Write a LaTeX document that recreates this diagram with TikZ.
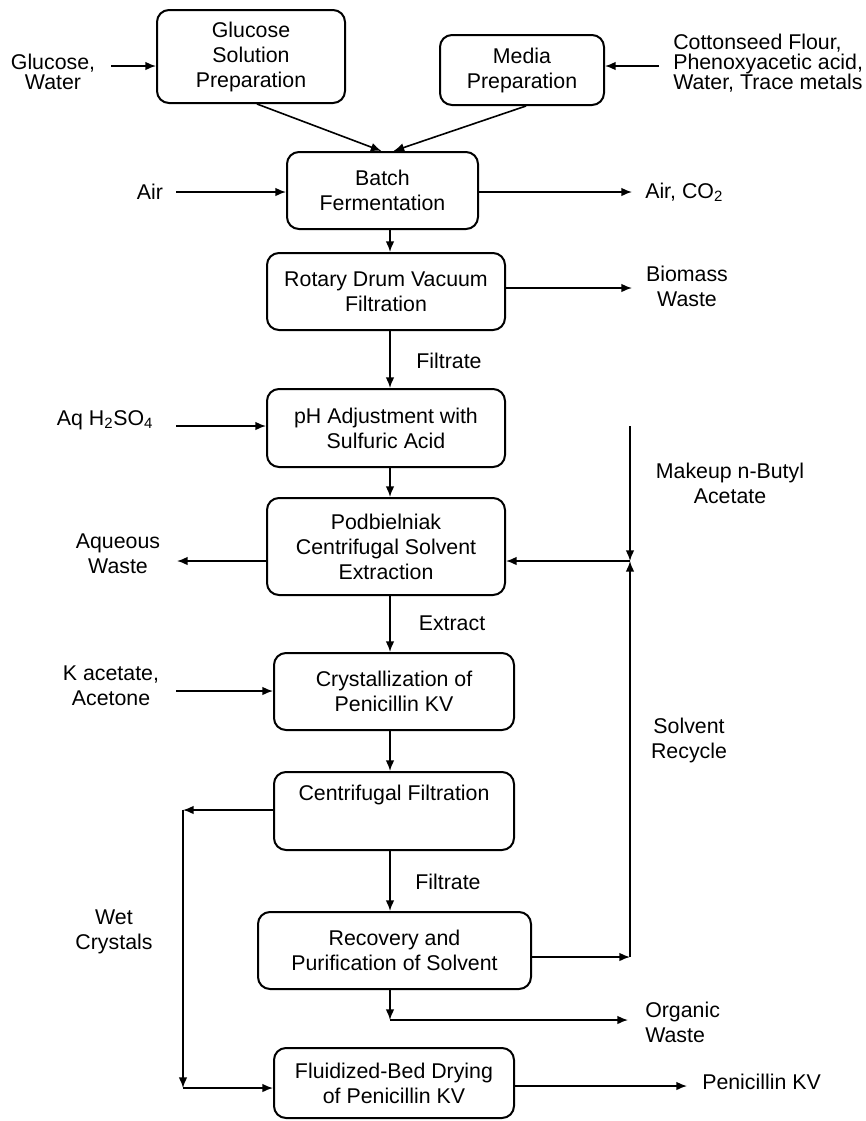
\documentclass[tikz,border=0pt]{standalone}
\usepackage{fontspec}
\setmainfont{Liberation Sans}
\usetikzlibrary{arrows.meta,calc}
\begin{document}
\begin{tikzpicture}[x=0.75pt,y=-0.75pt,
 box/.style={draw,line width=1.5pt,rounded corners=9pt,align=center,inner sep=0pt,font=\fontsize{16}{18.75}\selectfont},
 lbl/.style={align=center,inner sep=0pt,font=\fontsize{16}{18.75}\selectfont},
 lbltight/.style={align=center,inner sep=0pt,font=\fontsize{16}{15}\selectfont},
 arr/.style={line width=1.2pt,-{Latex[length=8pt,width=6.5pt]}}]
\useasboundingbox (0,0) rectangle (866,1121);
% process boxes
\node[box,minimum width=141pt,minimum height=69.75pt] (glu) at (251,56.5) {Glucose\\Solution\\Preparation};
\node[box,minimum width=123pt,minimum height=52.5pt] (media) at (522,70) {Media\\Preparation};
\node[box,minimum width=143.25pt,minimum height=57.75pt] (batch) at (382.5,190.5) {Batch\\Fermentation};
\node[box,minimum width=178.5pt,minimum height=57.75pt] (rotary) at (386,291.5) {Rotary Drum Vacuum\\Filtration};
\node[box,minimum width=178.5pt,minimum height=58.5pt] (ph) at (386,428) {pH Adjustment with\\Sulfuric Acid};
\node[box,minimum width=178.5pt,minimum height=72.75pt] (podb) at (386,546.5) {Podbielniak\\Centrifugal Solvent\\Extraction};
\node[box,minimum width=180pt,minimum height=57.75pt] (cryst) at (394,691.5) {Crystallization of\\Penicillin KV};
\node[box,minimum width=180pt,minimum height=58.5pt] (cf) at (394,811) {};
\node[box,minimum width=204.75pt,minimum height=57.75pt] (rec) at (394.5,950.5) {Recovery and\\Purification of Solvent};
\node[box,minimum width=180pt,minimum height=52.5pt] (fluid) at (394,1083) {Fluidized-Bed Drying\\of Penicillin KV};
% labels
\node[lbl] (cfT) at (394,795) {Centrifugal Filtration};
\node[lbltight] (gwL) at (53,72) {Glucose,\\Water};
\node[lbltight,anchor=west,align=left] (csL) at (673,63) {Cottonseed Flour,\\Phenoxyacetic acid,\\Water, Trace metals};
\node[lbl] (airL) at (150,192) {Air};
\node[lbl,anchor=west] (co2L) at (645,192) {Air, CO\textsubscript{2}};
\node[lbl] (bmL) at (687,286) {Biomass\\Waste};
\node[lbl] (f1L) at (449,361) {Filtrate};
\node[lbl] (h2L) at (105,420) {Aq H\textsubscript{2}SO\textsubscript{4}};
\node[lbl] (mkL) at (730,483) {Makeup n-Butyl\\Acetate};
\node[lbl] (awL) at (118,554) {Aqueous\\Waste};
\node[lbl] (exL) at (452,623) {Extract};
\node[lbl] (kaL) at (111,686) {K acetate,\\Acetone};
\node[lbl] (srL) at (689,740) {Solvent\\Recycle};
\node[lbl] (f2L) at (448,882) {Filtrate};
\node[lbl] (wcL) at (114,932) {Wet\\Crystals};
\node[lbl,anchor=west,align=left] (owL) at (645,1022) {Organic\\Waste};
\node[lbl,anchor=west] (pkL) at (702,1082) {Penicillin KV};
% coordinates
\coordinate (spine) at (390,0);
\coordinate (gwS) at (111,66);
\coordinate (csS) at (659,66);
\coordinate (airS) at (176,192);
\coordinate (co2E) at (632,192);
\coordinate (bmE) at (632,288);
\coordinate (h2S) at (176,426);
\coordinate (mkS) at (630,426);
\coordinate (jn) at (630,561);
\coordinate (awE) at (177,561);
\coordinate (kaS) at (176,691);
\coordinate (wc1) at (183,810);
\coordinate (wc2) at (183,1088);
\coordinate (rc) at (630,957);
\coordinate (ow1) at (390,1020);
\coordinate (ow2) at (628,1020);
\coordinate (pkE) at (687,1086);
% main flow
\draw[arr] ($(glu.south)+(6,0)$) -- ($(batch.north)+(-1,0)$);
\draw[arr] ($(media.south)+(4,0)$) -- ($(batch.north)+(11,0)$);
\draw[arr] (batch.south -| spine) -- (rotary.north -| spine);
\draw[arr] (rotary.south -| spine) -- (ph.north -| spine);
\draw[arr] (ph.south -| spine) -- (podb.north -| spine);
\draw[arr] (podb.south -| spine) -- (cryst.north -| spine);
\draw[arr] (cryst.south -| spine) -- (cf.north -| spine);
\draw[arr] (cf.south -| spine) -- (rec.north -| spine);
\draw[arr] (rec.south -| spine) -- (ow1);
\draw[arr] (ow1) -- (ow2);
% side streams
\draw[arr] (gwS) -- (gwS -| glu.west);
\draw[arr] (csS) -- (csS -| media.east);
\draw[arr] (airS) -- (airS -| batch.west);
\draw[arr] (batch.east |- co2E) -- (co2E);
\draw[arr] (rotary.east |- bmE) -- (bmE);
\draw[arr] (h2S) -- (h2S -| ph.west);
\draw[arr] (mkS) -- (jn);
\draw[arr] (jn) -- (jn -| podb.east);
\draw[arr] (awE -| podb.west) -- (awE);
\draw[arr] (kaS) -- (kaS -| cryst.west);
\draw[arr] (wc1 -| cf.west) -- (wc1);
\draw[arr] (wc1) -- (wc2);
\draw[arr] (wc2) -- (wc2 -| fluid.west);
\draw[arr] (rc -| rec.east) -- (rc);
\draw[arr] (rc) -- (jn);
\draw[arr] (pkE -| fluid.east) -- (pkE);
\end{tikzpicture}
\end{document}
